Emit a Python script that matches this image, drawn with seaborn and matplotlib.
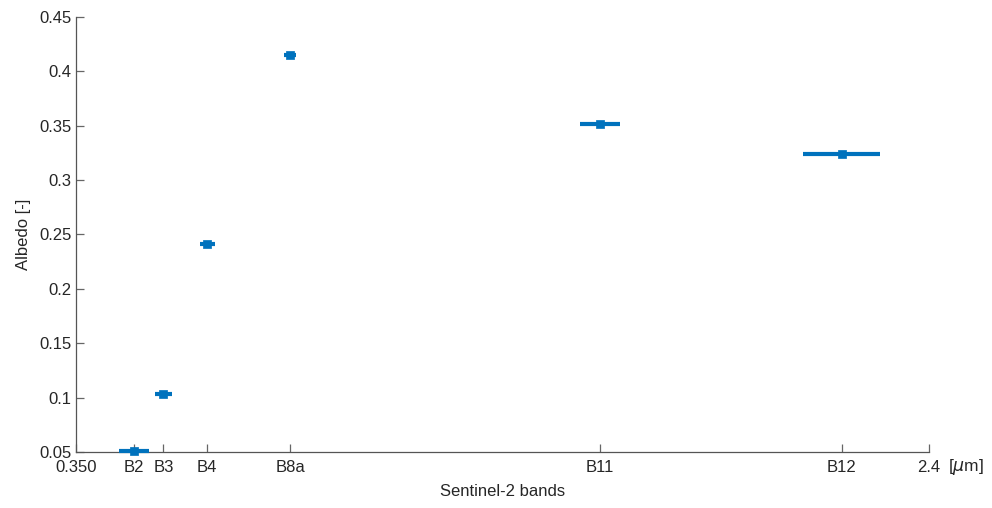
import matplotlib
matplotlib.use("Agg")
import matplotlib.pyplot as plt
import seaborn as sns
import pandas as pd
import numpy as np

bands = ["B2", "B3", "B4", "B8a", "B11", "B12"]
centers = [0.490, 0.560, 0.665, 0.865, 1.610, 2.190]      # µm
half_widths = [0.036, 0.020, 0.018, 0.014, 0.048, 0.092]  # µm
albedo = [0.051, 0.103, 0.241, 0.415, 0.352, 0.324]
xtick_vals = [0.35] + centers + [2.4]
xtick_labels = ["0.350"] + bands + ["2.4"]
ytick_vals = [0.05, 0.1, 0.15, 0.2, 0.25, 0.3, 0.35, 0.4, 0.45]
ytick_labels = ["0.05", "0.1", "0.15", "0.2", "0.25", "0.3", "0.35", "0.4", "0.45"]

df = pd.DataFrame({"band": bands, "wl": centers, "hw": half_widths, "albedo": albedo})

sns.set_theme(style="white")
plt.rcParams["font.family"] = ["Liberation Sans", "DejaVu Sans"]

blue = "#0072BD"
txt = "#262626"
fig = plt.figure(figsize=(9.92, 5.08), dpi=100)
ax = fig.add_axes([76/992, 1-452/508, (929-76)/992, (452-17)/508])

eb = ax.errorbar(df["wl"], df["albedo"], xerr=df["hw"], fmt="none", ecolor=blue,
                 elinewidth=3, capsize=0, zorder=4)
for coll in eb[2]:
    coll.set_clip_on(False)
sns.scatterplot(data=df, x="wl", y="albedo", marker="s", color=blue, s=30,
                edgecolor=blue, linewidth=0.5, ax=ax, zorder=5, legend=False,
                clip_on=False)

ax.set_xlim(0.35, 2.4)
ax.set_ylim(0.05, 0.45)
ax.set_xticks(xtick_vals)
ax.set_xticklabels(xtick_labels)
ax.set_yticks(ytick_vals)
ax.set_yticklabels(ytick_labels)

for s in ["top", "right"]:
    ax.spines[s].set_visible(False)
for s in ["left", "bottom"]:
    ax.spines[s].set_color("#555555")
    ax.spines[s].set_linewidth(0.9)

ax.tick_params(axis="both", direction="in", length=6, width=0.9, color="#666666",
               labelsize=12, labelcolor=txt, bottom=True, left=True)
ax.tick_params(axis="x", pad=6)
ax.tick_params(axis="y", pad=3)

ax.set_xlabel("Sentinel-2 bands", fontsize=12, color=txt, labelpad=6)
ax.set_ylabel("Albedo [-]", fontsize=12, color=txt, labelpad=6)

ax.text(2.445, -0.035, r"[$\mu$m]", transform=ax.get_xaxis_transform(),
        fontsize=12.5, color=txt, ha="left", va="center")
ax.grid(False)

fig.savefig("out.png", dpi=100)
